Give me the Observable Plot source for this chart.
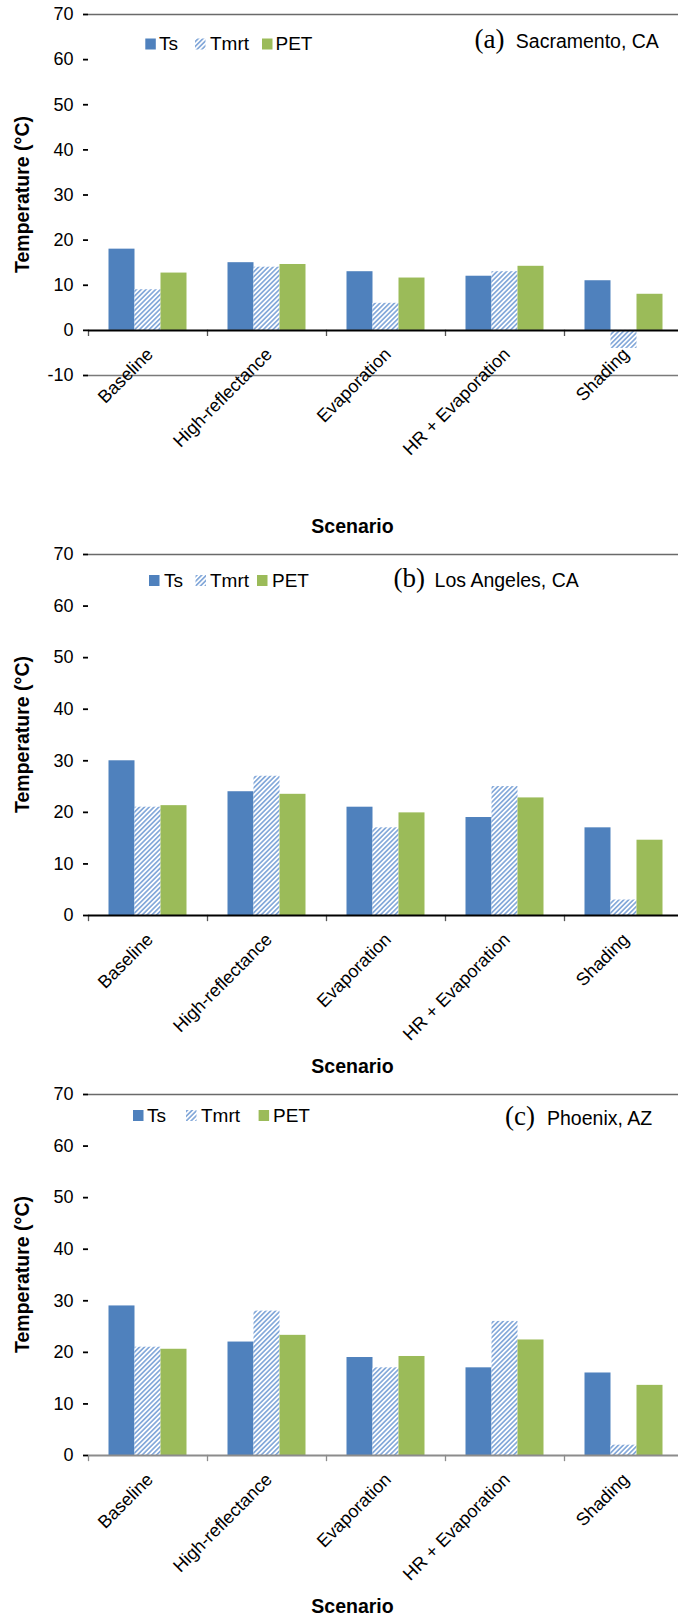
<!DOCTYPE html>
<html><head><meta charset="utf-8">
<script src="https://cdn.jsdelivr.net/npm/d3@7"></script>
<script src="https://cdn.jsdelivr.net/npm/@observablehq/plot@0.6"></script>
<style>
body{margin:0;background:#fff;}
#charts{width:678px;}
#charts svg{display:block;}
</style></head><body>
<svg width="0" height="0" style="position:absolute"><defs>
<pattern id="hatch" patternUnits="userSpaceOnUse" width="3.4" height="3.4" patternTransform="rotate(45)">
<rect width="3.4" height="3.4" fill="#fff"/><rect x="0" y="0" width="1.7" height="3.4" fill="#86AADA"/>
</pattern></defs></svg>
<div id="charts"></div>
<script>
const scenarios = ["Baseline","High-reflectance","Evaporation","HR + Evaporation","Shading"];
const series = ["Ts","Tmrt","PET"];
const seriesColors = ["#4F81BD","url(#hatch)","#9BBB59"];
const yTicksA = [-10,0,10,20,30,40,50,60,70];
const yTicksBC = [0,10,20,30,40,50,60,70];
const panelTags = ["(a)","(b)","(c)"];
const cities = ["Sacramento, CA","Los Angeles, CA","Phoenix, AZ"];
const xTitle = "Scenario";
const yTitle = "Temperature (°C)";

// (a) Sacramento
const sacTs   = [18, 15, 13, 12, 11];
const sacTmrt = [9, 14, 6, 13, -4];
const sacPET  = [12.7, 14.6, 11.6, 14.2, 8.0];
// (b) Los Angeles
const laTs   = [30, 24, 21, 19, 17];
const laTmrt = [21, 27, 17, 25, 3];
const laPET  = [21.3, 23.5, 19.9, 22.8, 14.6];
// (c) Phoenix
const phxTs   = [29, 22, 19, 17, 16];
const phxTmrt = [21, 28, 17, 26, 2];
const phxPET  = [20.6, 23.3, 19.2, 22.4, 13.6];

const SANS = "'Liberation Sans', Arial, sans-serif";
const SERIF = "'Liberation Serif', 'Times New Roman', serif";

function panel(cfg) {
  const rows = [];
  cfg.values.forEach((vals, i) => vals.forEach((v, j) => rows.push({scenario: scenarios[j], series: series[i], value: v})));
  const top = 14, bottom = 375;
  const [y0, y1] = cfg.yDomain;
  const zeroPx = top + (bottom - top) * (y1 - 0) / (y1 - y0);
  const marks = [
    Plot.barY(rows, {fx: "scenario", x: "series", y: "value", fill: "series"}),
    Plot.ruleY([y1], {stroke: "#6a6a6a", strokeWidth: 1.3}),
  ];
  if (y0 < 0) marks.push(Plot.ruleY([y0], {stroke: "#7a7a7a", strokeWidth: 1.3}));
  marks.push(
    Plot.frame({anchor: "left", stroke: cfg.tickColor, strokeWidth: 1.3, insetTop: zeroPx - top, insetBottom: bottom - zeroPx - 5}),
    Plot.ruleY([0], {stroke: cfg.zeroColor, strokeWidth: 2}),
    Plot.axisY({ticks: cfg.ticks, tickSize: 5, tickPadding: 10, fontSize: 18, tickFormat: d => String(d), line: true, stroke: "#000", strokeWidth: 1.8, label: null, fill: "#000"}),
    Plot.text(scenarios, {fx: d => d, y: () => 0, text: d => d, rotate: -45, textAnchor: "end", dx: 2, dy: 21, fontSize: 18, fill: "#000"})
  );
  const plot = Plot.plot({
    width: 678, height: cfg.height,
    marginLeft: 86.5, marginRight: -6, marginTop: top, marginBottom: cfg.height - bottom,
    style: {fontFamily: SANS, fontSize: "18px", color: "#000", background: "#fff"},
    fx: {domain: scenarios, padding: 0, axis: null},
    x: {domain: series, paddingInner: 0, paddingOuter: 0.75, axis: null},
    y: {domain: cfg.yDomain, axis: null},
    color: {domain: series, range: seriesColors},
    marks
  });
  const svg = d3.select(plot);
  // y title
  svg.append("text").attr("transform", `translate(28.5,194.5) rotate(-90)`)
    .attr("text-anchor", "middle").attr("font-family", SANS).attr("font-weight", "bold")
    .attr("font-size", 19.5).attr("fill", "#000").text(yTitle);
  // x title
  svg.append("text").attr("x", 352.5).attr("y", 533).attr("text-anchor", "middle")
    .attr("font-family", SANS).attr("font-weight", "bold").attr("font-size", 19.5).attr("fill", "#000").text(xTitle);
  // legend
  const lg = cfg.legend;
  series.forEach((s, i) => {
    svg.append("rect").attr("x", lg.icon[i]).attr("y", lg.iconTop).attr("width", 10.5).attr("height", 11)
      .attr("fill", seriesColors[i]);
    svg.append("text").attr("x", lg.text[i]).attr("y", lg.baseline).attr("text-anchor", "start")
      .attr("font-family", SANS).attr("font-size", 19).attr("fill", "#000").text(s);
  });
  // panel label
  svg.append("text").attr("x", cfg.tagX).attr("y", cfg.tagBase).attr("text-anchor", "start")
    .attr("font-family", SERIF).attr("font-size", 27).attr("fill", "#000").text(cfg.tag);
  svg.append("text").attr("x", cfg.cityX).attr("y", cfg.tagBase).attr("text-anchor", "start")
    .attr("font-family", SANS).attr("font-size", 19.5).attr("fill", "#000").text(cfg.city);
  return plot;
}

const host = document.getElementById("charts");
host.append(panel({
  height: 540, yDomain: [-10, 70], ticks: yTicksA, values: [sacTs, sacTmrt, sacPET],
  zeroColor: "#000", tickColor: "#555",
  legend: {icon: [145.3, 195, 262], text: [159, 210, 275.5], iconTop: 38.5, baseline: 50},
  tag: panelTags[0], tagX: 474.6, city: cities[0], cityX: 515.8, tagBase: 48
}));
host.append(panel({
  height: 540, yDomain: [0, 70], ticks: yTicksBC, values: [laTs, laTmrt, laPET],
  zeroColor: "#000", tickColor: "#555",
  legend: {icon: [149, 195.5, 257], text: [164, 210, 272], iconTop: 35, baseline: 47},
  tag: panelTags[1], tagX: 393.5, city: cities[1], cityX: 434.6, tagBase: 47
}));
host.append(panel({
  height: 538, yDomain: [0, 70], ticks: yTicksBC, values: [phxTs, phxTmrt, phxPET],
  zeroColor: "#8c8c8c", tickColor: "#8c8c8c",
  legend: {icon: [133, 186, 258.6], text: [147, 201, 273], iconTop: 30, baseline: 41.7},
  tag: panelTags[2], tagX: 505, city: cities[2], cityX: 547, tagBase: 45
}));
</script>
</body></html>
